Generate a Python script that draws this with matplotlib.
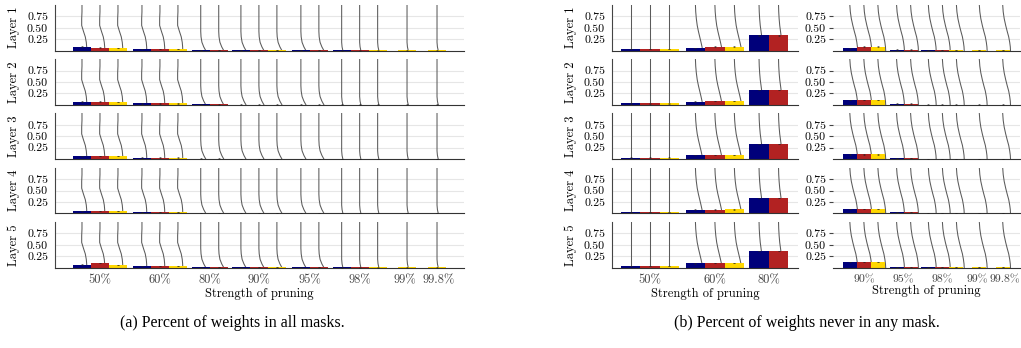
import matplotlib
matplotlib.use("Agg")
import matplotlib.pyplot as plt
from matplotlib.transforms import ScaledTranslation

plt.rcParams["font.family"] = ["cmr10", "DejaVu Serif"]
plt.rcParams["axes.formatter.use_mathtext"] = True

strengths = ["50%", "60%", "80%", "90%", "95%", "98%", "99%", "99.8%"]
# where each pruning strength sits on the x scale
strength_pos = [1.0, 2.0, 2.83, 3.65, 4.5, 5.33, 6.12, 6.62]
layers = ["Layer 1", "Layer 2", "Layer 3", "Layer 4", "Layer 5"]
colors = ["#00007a", "#b22222", "#ffd700"]

# (a) share of weights kept in every mask, one row per layer
all_navy = [
    [0.085, 0.03, 0.010, 0.006, 0.004, 0.003, None, None],
    [0.070, 0.03, 0.010, 0.005, 0.004, 0.003, None, None],
    [0.060, 0.03, 0.008, 0.005, 0.003, 0.002, None, None],
    [0.055, 0.03, 0.008, 0.005, 0.003, 0.002, None, None],
    [0.065, 0.04, 0.010, 0.005, 0.004, 0.003, None, None],
]
all_red = [
    [0.065, 0.03, 0.008, 0.005, 0.004, 0.003, None, None],
    [0.070, 0.03, 0.008, 0.005, 0.004, 0.003, None, None],
    [0.060, 0.03, 0.008, 0.005, 0.003, 0.002, None, None],
    [0.055, 0.03, 0.008, 0.005, 0.003, 0.002, None, None],
    [0.100, 0.04, 0.010, 0.005, 0.004, 0.003, None, None],
]
all_gold = [
    [0.050, 0.03, None, 0.004, None, 0.003, 0.003, 0.003],
    [0.065, 0.03, None, 0.004, None, 0.003, 0.003, 0.003],
    [0.060, 0.03, None, 0.004, None, 0.002, 0.002, 0.002],
    [0.055, 0.03, None, 0.004, None, 0.002, 0.002, 0.002],
    [0.060, 0.04, None, 0.004, None, 0.003, 0.003, 0.003],
]

# (b) share of weights that never appear in any mask
never_navy = [
    [0.03, 0.060, 0.33, 0.060, 0.020, 0.005, None, None],
    [0.03, 0.070, 0.33, 0.100, 0.025, 0.005, None, None],
    [0.03, 0.080, 0.33, 0.100, 0.020, 0.005, None, None],
    [0.03, 0.080, 0.33, 0.100, 0.020, 0.005, None, None],
    [0.03, 0.090, 0.37, 0.120, 0.015, 0.005, None, None],
]
never_red = [
    [0.03, 0.085, 0.33, 0.085, 0.020, 0.005, None, None],
    [0.03, 0.075, 0.33, 0.100, 0.025, 0.005, None, None],
    [0.03, 0.080, 0.33, 0.100, 0.020, 0.005, None, None],
    [0.03, 0.080, 0.33, 0.100, 0.020, 0.005, None, None],
    [0.03, 0.095, 0.37, 0.120, 0.015, 0.005, None, None],
]
never_gold = [
    [0.03, 0.085, None, 0.085, None, 0.004, 0.004, 0.004],
    [0.03, 0.075, None, 0.100, None, 0.004, 0.004, 0.004],
    [0.03, 0.085, None, 0.100, None, 0.004, 0.004, 0.004],
    [0.03, 0.085, None, 0.100, None, 0.004, 0.004, 0.004],
    [0.03, 0.100, None, 0.120, None, 0.004, 0.004, 0.004],
]
err = 0.003

# shape of the grey trace above each bar: sideways shift (px) along the height
trace_y = [1.0, 0.85, 0.7, 0.55, 0.42, 0.3, 0.18, 0.08, 0.0]
trace_steep = [0, 0, -0.3, -0.3, 1.5, 3.3, 4.3, 4.7, 4.8]
trace_knee = [0, 0, 0, 0, 0, 0.3, 1.2, 3.0, 5.0]
trace_flat = [0, 0, 0, 0, 0, 0, 0, 0.4, 1.2]
trace_none = [0, 0, 0, 0, 0, 0, 0, 0, 0]
trace_bend = [0, 0.3, 0.9, 1.8, 3.0, 4.3, 5.6, 6.6, 7.2]
trace_soft = [0, 0.2, 0.6, 1.2, 2.0, 2.7, 3.3, 3.8, 4.0]
trace_s = [0, 0.5, 1.5, 3.0, 4.5, 6.0, 7.0, 7.6, 7.8]
traces_all = [trace_steep, trace_steep, trace_knee, trace_knee, trace_knee,
              trace_flat, trace_flat, trace_flat]
traces_never = [trace_none, trace_bend, trace_soft, trace_s, trace_s,
                trace_s, trace_s, trace_s]

W, H = 1021, 348
row_top = 5
row_h = 45.5
row_step = 54.25
bar_w = 0.3


def draw_row(ax, x_px, idx, navy, red, gold, traces, xlim, bottom, ylabel,
             ticks, xsize):
    ax.set_xlim(*xlim)
    ax.set_ylim(0, 1.0)
    px = (xlim[1] - xlim[0]) / (x_px[1] - x_px[0])
    for i in idx:
        vals = [navy[i], red[i], gold[i]]
        present = [k for k in range(3) if vals[k] is not None]
        n = len(present)
        for j, k in enumerate(present):
            x = strength_pos[i] + (j - (n - 1) / 2) * bar_w
            tx = [x + d * px for d in traces[i]]
            ax.plot(tx, trace_y, color="#5a5a5a", lw=0.75, zorder=1)
            ax.bar(x, vals[k], width=bar_w, color=colors[k], zorder=2)
            ax.errorbar(x, vals[k], yerr=err, fmt="none", ecolor="#222222",
                        elinewidth=0.5, capsize=1.0, capthick=0.5,
                        alpha=0.7, zorder=3)
    ax.set_yticks([0.25, 0.5, 0.75])
    ax.set_yticklabels(["0.25", "0.50", "0.75"])
    ax.grid(axis="y", color="#e6e6e6", lw=0.8, zorder=0)
    ax.set_axisbelow(True)
    for s in ["top", "right"]:
        ax.spines[s].set_visible(False)
    ax.spines["bottom"].set_color("#333333")
    ax.spines["left"].set_color("#444444")
    ax.spines["left"].set_visible(ticks == 0)
    ax.tick_params(axis="y", length=ticks, width=0.8, color="#444444",
                   labelsize=8.5, pad=5 if ticks == 0 else 2)
    ax.tick_params(axis="x", length=0, labelsize=xsize, pad=5)
    ax.set_xticks([strength_pos[i] for i in idx])
    if bottom:
        ax.set_xticklabels([strengths[i] for i in idx], color="#444444")
        ax.set_xlabel("Strength of pruning", fontsize=9, labelpad=1)
        # the two last strengths sit close together: push their labels apart
        fig = ax.figure
        for lab in ax.get_xticklabels():
            shift = {"99%": -2.5, "99.8%": 2.0}.get(lab.get_text(), 0)
            if shift:
                lab.set_transform(lab.get_transform() +
                                  ScaledTranslation(shift / 100, 0, fig.dpi_scale_trans))
    else:
        ax.set_xticklabels([])
    if ylabel:
        ax.set_ylabel(ylabel, fontsize=9, labelpad=5)


fig = plt.figure(figsize=(W / 100, H / 100), dpi=100)

# panel a spans every strength; panel b is split in two
panels = [
    ((55, 464), list(range(8)), (all_navy, all_red, all_gold), traces_all,
     (0.25, 7.07), True, 0, 9),
    ((612, 798), [0, 1, 2], (never_navy, never_red, never_gold), traces_never,
     (0.415, 3.28), True, 0, 9),
    ((833, 1020), [3, 4, 5, 6, 7], (never_navy, never_red, never_gold), traces_never,
     (2.99, 6.99), False, 3, 8.5),
]

for x_px, idx, (navy, red, gold), traces, xlim, with_label, ticks, xsize in panels:
    for r, layer in enumerate(layers):
        top = row_top + r * row_step
        ax = fig.add_axes([x_px[0] / W, 1 - (top + row_h) / H,
                           (x_px[1] - x_px[0]) / W, row_h / H])
        draw_row(ax, x_px, idx, navy[r], red[r], gold[r], traces, xlim,
                 r == len(layers) - 1, layer if with_label else None,
                 ticks, xsize)

fig.text(232 / W, 1 - 323 / H, "(a) Percent of weights in all masks.",
         family="Liberation Serif", fontsize=11.5, ha="center", va="center")
fig.text(807 / W, 1 - 323 / H, "(b) Percent of weights never in any mask.",
         family="Liberation Serif", fontsize=11.5, ha="center", va="center")

fig.savefig("out.png", dpi=100)
